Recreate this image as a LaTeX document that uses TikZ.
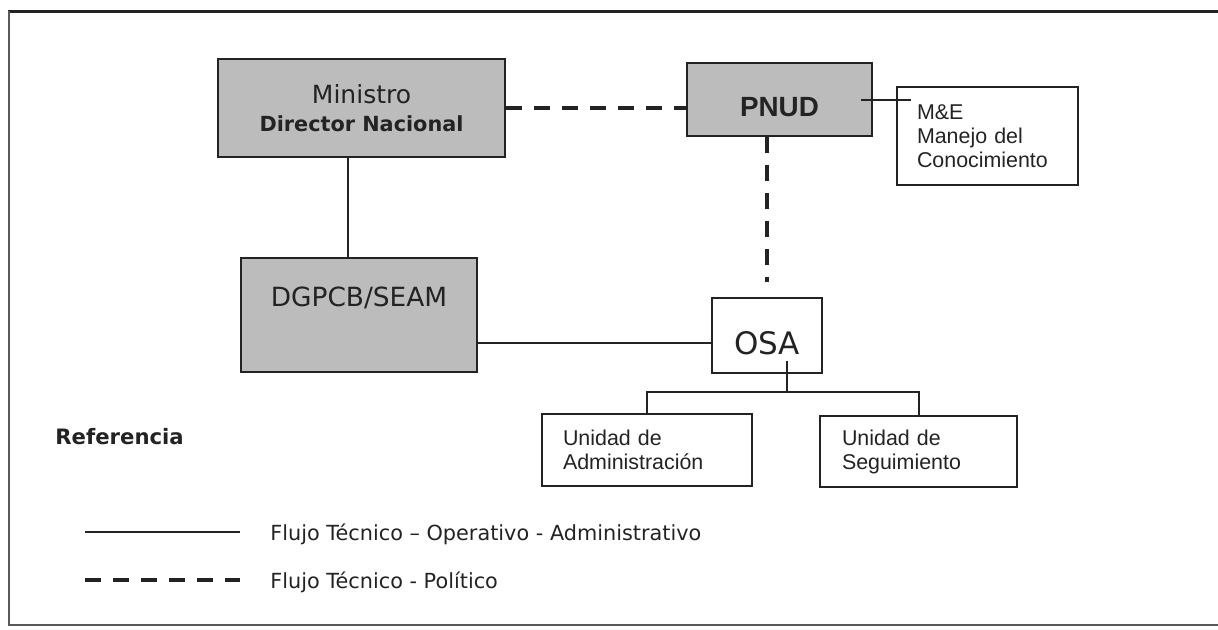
\documentclass[tikz,border=0pt]{standalone}
\usepackage{fontspec}
\setmainfont{DejaVu Sans}
\newfontfamily\arialfont{Liberation Sans}
\usepackage{xcolor}
\definecolor{boxgray}{RGB}{188,188,188}
\definecolor{inkgray}{RGB}{35,35,35}
\definecolor{framegray}{RGB}{90,90,90}

\begin{document}
\begin{tikzpicture}[x=0.5pt, y=-0.5pt,
    graybox/.style={draw=inkgray, line width=1pt, fill=boxgray, inner sep=0pt, text=inkgray},
    whitebox/.style={draw=inkgray, line width=0.8pt, inner sep=0pt, align=left, text=inkgray,
      font=\arialfont\fontsize{10.7}{12}\selectfont},
    flow/.style={draw=inkgray, line width=1pt},
    politic/.style={draw=inkgray, line width=2pt, dash pattern=on 8pt off 6pt},
    legendtext/.style={anchor=west, inner sep=0pt, text=inkgray, font=\fontsize{10.4}{12}\selectfont}]
    \useasboundingbox (0,0) rectangle (1218,629);

    % Frame
    \draw[line width=1.5pt, inkgray] (8,11) -- (1218,11);
    \draw[line width=1pt, framegray] (9,11) -- (9,625) -- (1218,625);

    % Upper level
    \node[graybox, minimum width=143.5pt, minimum height=49pt, align=center,
      font=\fontsize{12.5}{14}\selectfont] (ministro) at (361.5,108)
      {Ministro\\{\bfseries\fontsize{10.4}{14}\selectfont Director Nacional}};
    \node[graybox, minimum width=92.5pt, minimum height=36.5pt, text height=17pt, text depth=0pt,
      font=\arialfont\bfseries\fontsize{13.9}{16}\selectfont] (pnud) at (779.5,99.5) {PNUD};
    \node[whitebox, text width=70.5pt, inner xsep=10pt, minimum height=49pt] (mye) at (987.5,136)
      {M\&E\\Manejo del\\Conocimiento};

    % Middle level
    \node[graybox, minimum width=118pt, minimum height=57pt, text height=9.6pt, text depth=18pt,
      font=\fontsize{13.2}{16}\selectfont] (dgpcb) at (359,315) {DGPCB/SEAM};
    \node[whitebox, minimum width=55pt, minimum height=37.5pt, text height=19.2pt, text depth=0pt,
      font=\fontsize{15.5}{18}\selectfont] (osa) at (767,335.5) {OSA};

    % Units under OSA
    \node[whitebox, text width=84pt, inner xsep=10.5pt, minimum height=36pt] (adm) at (647,450)
      {Unidad de\\Administración};
    \node[whitebox, text width=76.5pt, inner xsep=11pt, minimum height=35.5pt] (seg) at (918.5,451.5)
      {Unidad de\\Seguimiento};

    % Connectors
    \draw[politic] (ministro.east) -- (ministro.east -| pnud.west);
    \draw[politic, shorten >=7.5pt] (osa.north |- pnud.south) -- (osa.north);
    \draw[flow] ([xshift=-6pt]pnud.east) -- ([xshift=7.5pt]mye.west |- pnud.east);
    \draw[flow] ([xshift=-5.5pt]dgpcb.north) -- ([xshift=-5.5pt]dgpcb.north |- ministro.south);
    \draw[flow] ([yshift=-3.75pt]osa.west) -- ([yshift=-3.75pt]osa.west -| dgpcb.east);
    \coordinate (fork) at (787,392);
    \draw[flow] ([xshift=10pt,yshift=6.5pt]osa.south) -- (fork);
    \draw[flow] (adm.north) |- (fork) -| (seg.north);

    % Legend
    \node[anchor=west, inner sep=0pt, text=inkgray, font=\bfseries\fontsize{10.6}{12}\selectfont]
      (ref) at (55,437) {Referencia};
    \coordinate (solidA) at (85,532);
    \coordinate (solidB) at (240,532);
    \coordinate (dashA) at (85,580);
    \coordinate (dashB) at (240,580);
    \draw[flow] (solidA) -- (solidB);
    \draw[politic, line width=1.8pt] (dashA) -- (dashB);
    \node[legendtext] (flowtext) at (270,534) {Flujo Técnico – Operativo - Administrativo};
    \node[legendtext] (polytext) at (270,582) {Flujo Técnico - Político};
\end{tikzpicture}
\end{document}
